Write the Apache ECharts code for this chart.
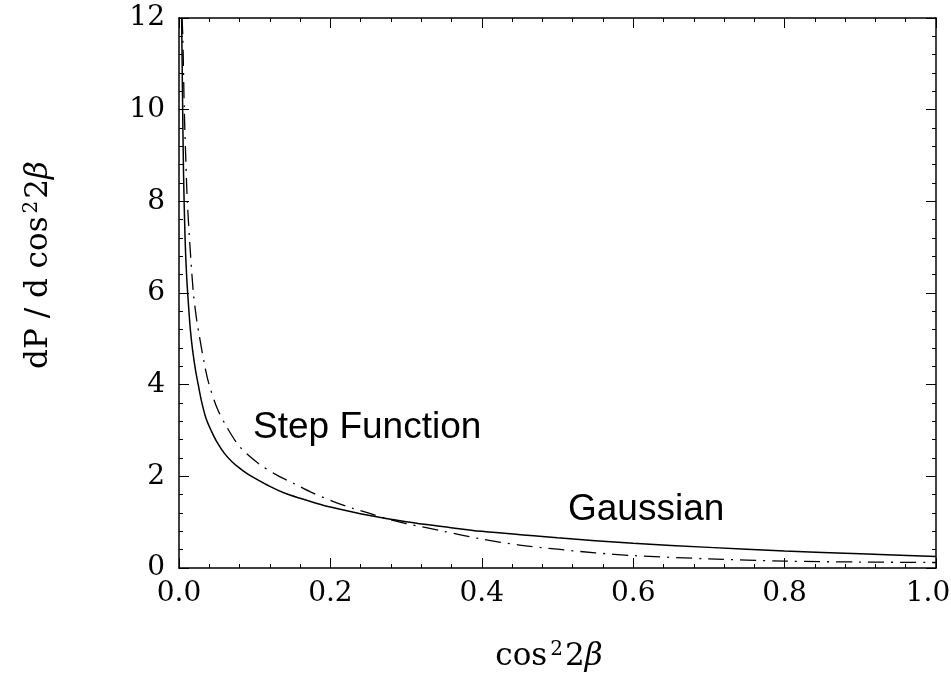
<!DOCTYPE html>
<html><head><meta charset="utf-8">
<script src="https://cdn.jsdelivr.net/npm/echarts@6/dist/echarts.min.js"></script>
<style>html,body{margin:0;padding:0;background:#fff}#c{width:951px;height:677px}</style>
</head><body><div id="c"></div>
<script>
// Solid curve (x = cos^2 2beta, y = dP/dcos^2 2beta)
const solidX = [0.0035,0.0045,0.006,0.008,0.010,0.0125,0.015,0.018,0.022,0.026,0.03,0.036,0.043,0.05,0.06,0.07,0.08,0.09,0.1,0.12,0.14,0.16,0.18,0.2,0.25,0.3,0.35,0.4,0.5,0.6,0.7,0.8,0.9,1.0];
const solidY = [12,10.5,8.6,7.2,6.4,5.75,5.2,4.75,4.3,3.95,3.62,3.25,2.98,2.75,2.5,2.32,2.18,2.06,1.96,1.78,1.63,1.52,1.42,1.33,1.15,1.01,0.9,0.8,0.66,0.54,0.45,0.37,0.31,0.25];
// Dash-dot curve
const dashX = [0.004,0.005,0.007,0.009,0.011,0.015,0.019,0.023,0.027,0.033,0.039,0.05,0.063,0.08,0.105,0.13,0.151,0.175,0.204,0.23,0.252,0.28,0.3,0.35,0.4,0.45,0.5,0.55,0.6,0.7,0.8,0.9,1.0];
const dashY = [12,11.6,10.0,8.9,8.0,6.9,6.0,5.45,5.05,4.5,4.05,3.5,3.08,2.65,2.28,2.02,1.85,1.65,1.45,1.3,1.19,1.05,0.97,0.8,0.63,0.5,0.41,0.33,0.27,0.2,0.15,0.13,0.12];
const xTicks = ['0.0','0.2','0.4','0.6','0.8','1.0'];
const yTicks = ['0','2','4','6','8','10','12'];
const annotations = ['Step Function','Gaussian'];

const pair = (xs, ys) => xs.map((x, i) => [x, ys[i]]);
const serif = 'DejaVu Serif';
const axisLineStyle = {color:'#000', width:1.5};
function xAx(pos, labels){
  return {type:'value', min:0, max:1, interval:0.2, position:pos,
    axisLine:{show:true, onZero:false, lineStyle:axisLineStyle},
    axisTick:{show:true, inside:true, length:10, lineStyle:{color:'#000',width:1}},
    minorTick:{show:true, splitNumber:5, length:4, lineStyle:{color:'#000',width:1}},
    splitLine:{show:false},
    axisLabel:{show:labels, margin:12, fontFamily:serif, fontSize:28, color:'#000',
      rich:{r:{fontFamily:serif, fontSize:28, color:'#000', padding:[0,16,0,0]}},
      formatter:(v)=>{const i=Math.round(v/0.2); return i===xTicks.length-1 ? '{r|'+xTicks[i]+'}' : xTicks[i];}}};
}
function yAx(pos, labels){
  return {type:'value', min:0, max:12, interval:2, position:pos,
    axisLine:{show:true, onZero:false, lineStyle:axisLineStyle},
    axisTick:{show:true, inside:true, length:10, lineStyle:{color:'#000',width:1}},
    minorTick:{show:true, splitNumber:5, length:4, lineStyle:{color:'#000',width:1}},
    splitLine:{show:false},
    axisLabel:{show:labels, margin:14, fontFamily:serif, fontSize:28, color:'#000',
      formatter:(v)=>yTicks[Math.round(v/2)]}};
}
const titleRich = {
  n:{fontFamily:serif, fontSize:31, fill:'#000'},
  s:{fontFamily:serif, fontSize:20, fill:'#000', padding:[0,2,14,3]},
  b:{fontFamily:serif, fontSize:31, fontStyle:'italic', fill:'#000'}
};
const chart = echarts.init(document.getElementById('c'), null, {renderer:'canvas'});
chart.setOption({
  backgroundColor:'#fff',
  animation:false,
  grid:{left:179, right:15, top:18, bottom:109, containLabel:false, outerBoundsMode:'none'},
  xAxis:[xAx('bottom', true), xAx('top', false)],
  yAxis:[yAx('left', true), yAx('right', false)],
  series:[
    {type:'line', xAxisIndex:0, yAxisIndex:0, data:pair(solidX, solidY), showSymbol:false,
      smooth:0.3, lineStyle:{color:'#000', width:1.5}},
    {type:'line', xAxisIndex:0, yAxisIndex:0, data:pair(dashX, dashY), showSymbol:false,
      smooth:0.3, lineStyle:{color:'#000', width:1.3, type:[16,7,2,7]}}
  ],
  graphic:[
    {type:'text', x:253, y:428, style:{text:annotations[0], font:'37px "Liberation Sans", Arial', fill:'#000', verticalAlign:'middle'}},
    {type:'text', x:568, y:510, style:{text:annotations[1], font:'37px "Liberation Sans", Arial', fill:'#000', verticalAlign:'middle'}},
    {type:'text', x:39, y:265, rotation:Math.PI/2, style:{
      text:'{n|dP / d cos}{s|2}{n|2}{b|β}', align:'center', verticalAlign:'middle', rich:titleRich}},
    {type:'text', x:549, y:657, style:{
      text:'{n|cos}{s|2}{n|2}{b|β}', align:'center', verticalAlign:'middle', rich:titleRich}}
  ]
});
</script></body></html>
